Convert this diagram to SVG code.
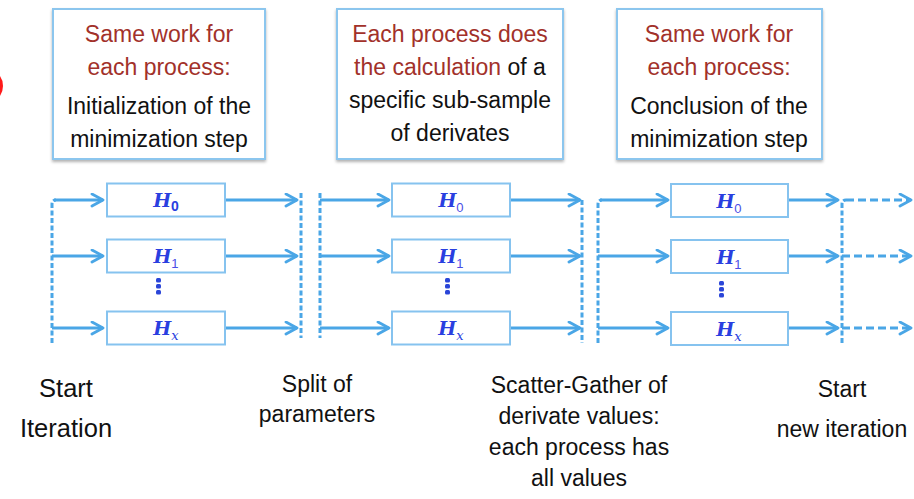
<svg xmlns="http://www.w3.org/2000/svg" width="914" height="499" viewBox="0 0 914 499">
  <style>
    .note { fill: #ffffff; stroke: #8cc6ee; stroke-width: 2; filter: url(#shadow); }
    .txt { font-family: "Liberation Sans", Arial, sans-serif; font-size: 23px; fill: #111111; text-anchor: middle; }
    .big { font-size: 25.5px; }
    .red { fill: #a2312a; }
    .hbox { fill: #ffffff; stroke: #86c3ef; stroke-width: 2; }
    .h { font-family: "DejaVu Serif", "Liberation Serif", serif; font-weight: bold; font-style: italic; font-size: 19px; fill: #2a3fe0; }
    .sub { font-family: "Liberation Sans", Arial, sans-serif; font-size: 13px; fill: #4a4ee6; }
    .subb { font-weight: bold; font-size: 14px; fill: #2a3fe0; }
    .subx { font-family: "DejaVu Serif", "Liberation Serif", serif; font-style: italic; font-size: 13px; fill: #2a3fe0; }
    .dot { fill: #2a45d8; }
    .arrow { stroke: #4aa6e6; stroke-width: 3; fill: none; marker-end: url(#head); }
    .darrow { stroke: #4aa6e6; stroke-width: 3; fill: none; stroke-dasharray: 8 4; marker-end: url(#head); }
    .bar { stroke: #4aa6e6; stroke-width: 3; fill: none; stroke-dasharray: 5 2.5; }
  </style>
  <defs>
    <marker id="head" viewBox="0 0 15 15" refX="13" refY="7.5" markerWidth="15" markerHeight="15" markerUnits="userSpaceOnUse" orient="auto">
      <path d="M2,1.5 L13,7.5 L2,13.5" fill="none" stroke="#4aa6e6" stroke-width="2.8" stroke-linecap="round" stroke-linejoin="round"/>
    </marker>
    <filter id="shadow" x="-5%" y="-5%" width="110%" height="115%">
      <feDropShadow dx="0" dy="2" stdDeviation="1.5" flood-color="#000000" flood-opacity="0.3"/>
    </filter>
  </defs>

  <!-- red mark cut by the left edge -->
  <ellipse cx="-11" cy="86" rx="12" ry="14" fill="none" stroke="#ff1a1a" stroke-width="4"/>

  <!-- description boxes above each phase -->
  <g id="note-init">
    <rect class="note" x="53" y="9" width="212" height="150"/>
    <text class="txt red" x="159" y="42">Same work for</text>
    <text class="txt red" x="159" y="75">each process:</text>
    <text class="txt" x="159" y="114">Initialization of the</text>
    <text class="txt" x="159" y="147">minimization step</text>
  </g>
  <g id="note-calc">
    <rect class="note" x="337" y="9" width="226" height="150"/>
    <text class="txt red" x="450" y="42">Each process does</text>
    <text class="txt" x="450" y="75"><tspan class="red">the calculation</tspan> of a</text>
    <text class="txt" x="450" y="108">specific sub-sample</text>
    <text class="txt" x="450" y="141">of derivates</text>
  </g>
  <g id="note-concl">
    <rect class="note" x="617" y="9" width="205" height="150"/>
    <text class="txt red" x="719" y="42">Same work for</text>
    <text class="txt red" x="719" y="75">each process:</text>
    <text class="txt" x="719" y="114">Conclusion of the</text>
    <text class="txt" x="719" y="147">minimization step</text>
  </g>

  <!-- connectors -->
  <g id="connectors">
    <!-- phase 1 -->
    <path class="bar" d="M52,343 V204 Q52,200 56,200"/>
    <line class="arrow" x1="54" y1="200" x2="103" y2="200"/>
    <line class="arrow" x1="52" y1="256" x2="103" y2="256"/>
    <line class="arrow" x1="52" y1="328" x2="103" y2="328"/>
    <line class="arrow" x1="225" y1="200" x2="297" y2="200"/>
    <line class="arrow" x1="225" y1="256" x2="297" y2="256"/>
    <line class="arrow" x1="225" y1="328" x2="297" y2="328"/>
    <line class="bar" x1="301" y1="193" x2="301" y2="338"/>
    <!-- phase 2 -->
    <line class="bar" x1="320" y1="193" x2="320" y2="338"/>
    <line class="arrow" x1="320" y1="200" x2="389" y2="200"/>
    <line class="arrow" x1="320" y1="256" x2="389" y2="256"/>
    <line class="arrow" x1="320" y1="328" x2="389" y2="328"/>
    <line class="arrow" x1="510" y1="200" x2="580" y2="200"/>
    <line class="arrow" x1="510" y1="256" x2="580" y2="256"/>
    <line class="arrow" x1="510" y1="328" x2="580" y2="328"/>
    <line class="bar" x1="582" y1="200" x2="582" y2="343"/>
    <!-- phase 3 -->
    <path class="bar" d="M598,343 V204 Q598,200 602,200"/>
    <line class="arrow" x1="600" y1="200" x2="668" y2="200"/>
    <line class="arrow" x1="598" y1="256" x2="668" y2="256"/>
    <line class="arrow" x1="598" y1="328" x2="668" y2="328"/>
    <line class="arrow" x1="788" y1="200" x2="838" y2="200"/>
    <line class="arrow" x1="788" y1="256" x2="838" y2="256"/>
    <line class="arrow" x1="788" y1="328" x2="838" y2="328"/>
    <!-- next iteration -->
    <path class="bar" d="M842,343 V204 Q842,200 846,200"/>
    <line class="darrow" x1="846" y1="200" x2="911" y2="200"/>
    <line class="darrow" x1="842" y1="256" x2="911" y2="256"/>
    <line class="darrow" x1="842" y1="328" x2="911" y2="328"/>
  </g>

  <!-- process boxes, phase 1 -->
  <g id="p1-h0">
    <rect class="hbox" x="107" y="183.5" width="118" height="33"/>
    <text x="166" y="207" text-anchor="middle"><tspan class="h">H</tspan><tspan class="sub subb" dy="4">0</tspan></text>
  </g>
  <g id="p1-h1">
    <rect class="hbox" x="107" y="239.5" width="118" height="33"/>
    <text x="166" y="263" text-anchor="middle"><tspan class="h">H</tspan><tspan class="sub" dy="5">1</tspan></text>
  </g>
  <g id="p1-dots">
    <rect class="dot" x="156" y="278" width="5" height="4.5" rx="1.5"/>
    <rect class="dot" x="156" y="284" width="5" height="4.5" rx="1.5"/>
    <rect class="dot" x="156" y="290" width="5" height="4.5" rx="1.5"/>
  </g>
  <g id="p1-hx">
    <rect class="hbox" x="107" y="311.5" width="118" height="33"/>
    <text x="166" y="335" text-anchor="middle"><tspan class="h">H</tspan><tspan class="subx" dy="5">x</tspan></text>
  </g>

  <!-- process boxes, phase 2 -->
  <g id="p2-h0">
    <rect class="hbox" x="392" y="183.5" width="118" height="33"/>
    <text x="451" y="207" text-anchor="middle"><tspan class="h">H</tspan><tspan class="sub" dy="5">0</tspan></text>
  </g>
  <g id="p2-h1">
    <rect class="hbox" x="392" y="239.5" width="118" height="33"/>
    <text x="451" y="263" text-anchor="middle"><tspan class="h">H</tspan><tspan class="sub" dy="5">1</tspan></text>
  </g>
  <g id="p2-dots">
    <rect class="dot" x="445" y="278" width="5" height="4.5" rx="1.5"/>
    <rect class="dot" x="445" y="284" width="5" height="4.5" rx="1.5"/>
    <rect class="dot" x="445" y="290" width="5" height="4.5" rx="1.5"/>
  </g>
  <g id="p2-hx">
    <rect class="hbox" x="392" y="311.5" width="118" height="33"/>
    <text x="451" y="335" text-anchor="middle"><tspan class="h">H</tspan><tspan class="subx" dy="5">x</tspan></text>
  </g>

  <!-- process boxes, phase 3 -->
  <g id="p3-h0">
    <rect class="hbox" x="671" y="184" width="117" height="33"/>
    <text x="729" y="208" text-anchor="middle"><tspan class="h">H</tspan><tspan class="sub" dy="5">0</tspan></text>
  </g>
  <g id="p3-h1">
    <rect class="hbox" x="671" y="240" width="117" height="33"/>
    <text x="729" y="264" text-anchor="middle"><tspan class="h">H</tspan><tspan class="sub" dy="5">1</tspan></text>
  </g>
  <g id="p3-dots">
    <rect class="dot" x="719" y="281" width="5" height="4.5" rx="1.5"/>
    <rect class="dot" x="719" y="287" width="5" height="4.5" rx="1.5"/>
    <rect class="dot" x="719" y="293" width="5" height="4.5" rx="1.5"/>
  </g>
  <g id="p3-hx">
    <rect class="hbox" x="671" y="312" width="117" height="33"/>
    <text x="729" y="336" text-anchor="middle"><tspan class="h">H</tspan><tspan class="subx" dy="5">x</tspan></text>
  </g>

  <!-- step labels -->
  <g id="label-start">
    <text class="txt big" x="66" y="397">Start</text>
    <text class="txt big" x="66" y="437">Iteration</text>
  </g>
  <g id="label-split">
    <text class="txt" x="317" y="392">Split of</text>
    <text class="txt" x="317" y="422">parameters</text>
  </g>
  <g id="label-gather">
    <text class="txt" x="579" y="393">Scatter-Gather of</text>
    <text class="txt" x="579" y="424">derivate values:</text>
    <text class="txt" x="579" y="455">each process has</text>
    <text class="txt" x="579" y="486">all values</text>
  </g>
  <g id="label-next">
    <text class="txt" x="842" y="397">Start</text>
    <text class="txt" x="842" y="437">new iteration</text>
  </g>
</svg>
